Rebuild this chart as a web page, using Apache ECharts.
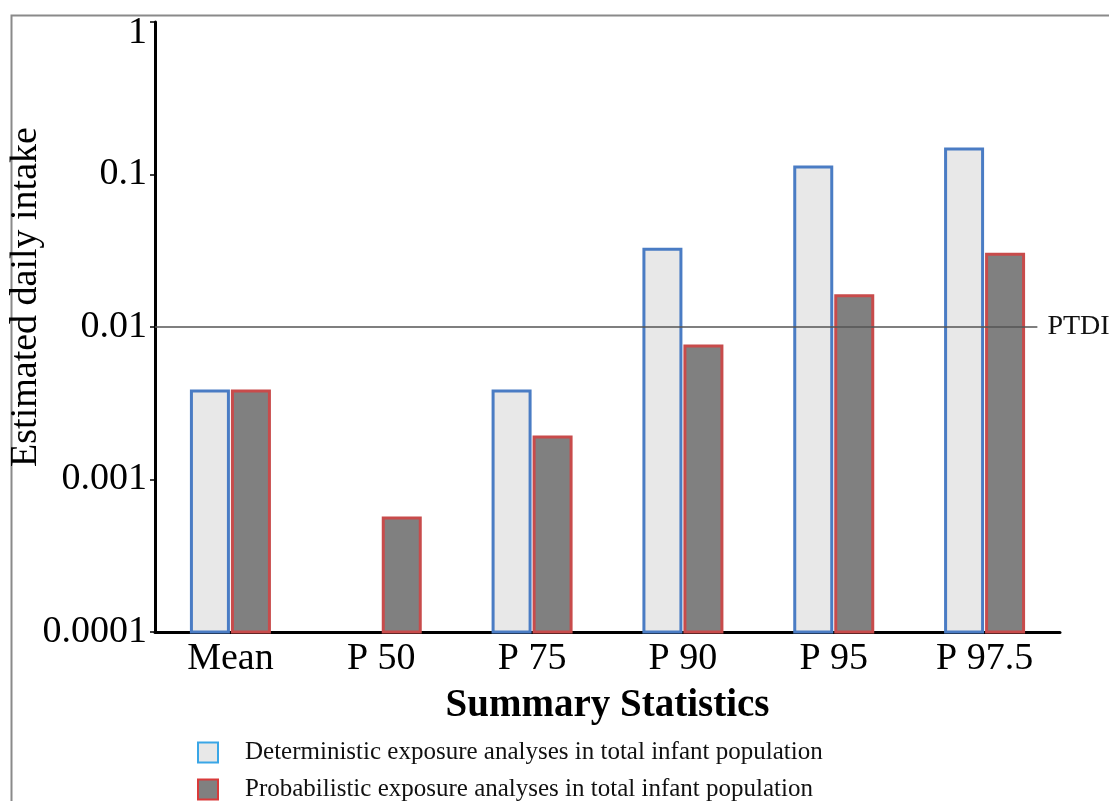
<!DOCTYPE html>
<html>
<head>
<meta charset="utf-8">
<script src="https://cdn.jsdelivr.net/npm/echarts@6/dist/echarts.min.js"></script>
<style>html,body{margin:0;padding:0;background:#fff;}#c{width:1109px;height:801px;}</style>
</head>
<body>
<div id="c"></div>
<script>
const categories = ['Mean', 'P 50', 'P 75', 'P 90', 'P 95', 'P 97.5'];
const deterministic = [0.0038, null, 0.0038, 0.0324, 0.112, 0.147];
const probabilistic = [0.0038, 0.00056, 0.0019, 0.0075, 0.016, 0.030];
const yTicks = [0.0001, 0.001, 0.01, 0.1, 1];
const ptdi = 0.01;
const ptdiSpan = [-0.5, 5.35];   // in category-index units
const seriesNames = ['Deterministic exposure analyses in total infant population',
                     'Probabilistic exposure analyses in total infant population'];

const serif = '"Liberation Serif", "DejaVu Serif", serif';
const yMin = yTicks[0], yMax = yTicks[yTicks.length - 1];
const BAR_W = 37, BAR_GAP = 4;

function barRenderer(side, fill, stroke) {
  return function (params, api) {
    const idx = api.value(0);
    const v = api.value(1);
    if (v == null || isNaN(v) || v <= 0) return null;
    const top = api.coord([idx, v]);
    const base = api.coord([idx, yMin]);
    const x = side < 0 ? top[0] - BAR_GAP / 2 - BAR_W : top[0] + BAR_GAP / 2;
    return {
      type: 'rect',
      shape: { x: x, y: top[1], width: BAR_W, height: base[1] - top[1] },
      style: { fill: fill, stroke: stroke, lineWidth: 3 }
    };
  };
}

const legendCommon = {
  orient: 'vertical', left: 197, padding: 0,
  itemWidth: 20, itemHeight: 20,
  textStyle: { fontFamily: serif, fontSize: 25, color: '#111', padding: [0, 0, 0, 22] }
};

function tickText(v) {
  const t = yTicks.find(t => Math.abs(Math.log10(t) - Math.log10(v)) < 1e-6);
  const s = String(t ?? v);
  return t === yMax ? '{top|' + s + '}' : s;
}

const chart = echarts.init(document.getElementById('c'));
chart.setOption({
  animation: false,
  backgroundColor: '#fff',
  graphic: [{
    type: 'rect', left: 9, top: 13, silent: true, z: -1,
    shape: { width: 1300, height: 1000 },
    style: { fill: 'none', stroke: '#8a8a8a', lineWidth: 2 }
  }],
  grid: { left: 155, right: 49, top: 22, bottom: 169, containLabel: false, outerBoundsMode: 'none' },
  legend: [
    Object.assign({}, legendCommon, { top: 740, data: [
      { name: seriesNames[0], icon: 'rect', itemStyle: { color: '#e8e8e8', borderColor: '#3aa6e6', borderWidth: 2 } }
    ] }),
    Object.assign({}, legendCommon, { top: 777, data: [
      { name: seriesNames[1], icon: 'rect', itemStyle: { color: '#808080', borderColor: '#d93a3a', borderWidth: 2 } }
    ] })
  ],
  xAxis: [{
    type: 'category', data: categories,
    name: 'Summary Statistics', nameLocation: 'middle', nameGap: 54, nameMoveOverlap: false,
    nameTextStyle: { fontFamily: serif, fontSize: 39, fontWeight: 'bold', color: '#000' },
    axisLine: { onZero: false, lineStyle: { color: '#000', width: 3 } },
    axisTick: { show: false },
    axisLabel: { fontFamily: serif, fontSize: 38, color: '#000', margin: 8 }
  }, {
    type: 'value', show: false, min: -0.5, max: categories.length - 0.5,
    axisLine: { onZero: false }
  }],
  yAxis: {
    type: 'log', logBase: 10, min: yMin, max: yMax,
    name: 'Estimated daily intake', nameLocation: 'middle', nameGap: 110, nameMoveOverlap: false,
    nameTextStyle: { fontFamily: serif, fontSize: 38, color: '#000', padding: [0, 0, 0, 60] },
    axisLine: { show: true, onZero: false, lineStyle: { color: '#000', width: 3 } },
    axisTick: { show: true, length: 5, lineStyle: { color: '#000', width: 1.5 } },
    splitLine: { show: false },
    axisLabel: {
      fontFamily: serif, fontSize: 38, color: '#000', margin: 8,
      formatter: tickText,
      rich: { top: { fontFamily: serif, fontSize: 38, color: '#000', padding: [22, 0, 0, 0] } }
    }
  },
  series: [
    {
      name: seriesNames[0], type: 'custom',
      renderItem: barRenderer(-1, '#e8e8e8', '#4a7cc4'),
      itemStyle: { color: '#e8e8e8', borderColor: '#4a7cc4' },
      encode: { x: 0, y: 1 },
      data: deterministic.map((v, i) => [i, v == null ? '-' : v])
    },
    {
      name: seriesNames[1], type: 'custom',
      renderItem: barRenderer(1, '#808080', '#c84b4b'),
      itemStyle: { color: '#808080', borderColor: '#c84b4b' },
      encode: { x: 0, y: 1 },
      data: probabilistic.map((v, i) => [i, v == null ? '-' : v])
    },
    {
      name: 'PTDI', type: 'line', xAxisIndex: 1, z: 10,
      data: ptdiSpan.map(x => [x, ptdi]),
      symbol: 'none', silent: true,
      lineStyle: { color: '#555', width: 1.5 },
      endLabel: { show: true, formatter: 'PTDI', fontFamily: serif, fontSize: 28, color: '#111', distance: 10 }
    }
  ]
});
</script>
</body>
</html>
